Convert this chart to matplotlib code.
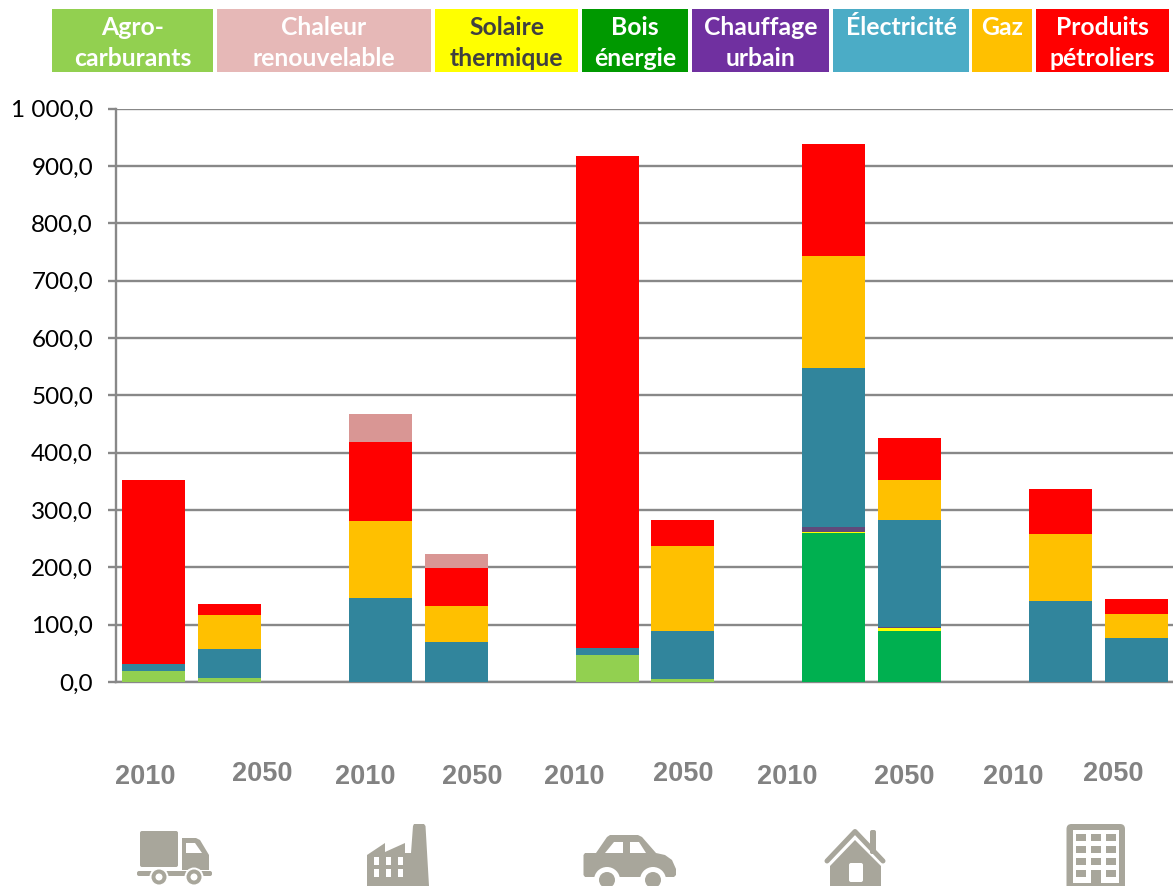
import matplotlib
matplotlib.use("Agg")
import matplotlib.pyplot as plt
from matplotlib.patches import Polygon, Rectangle, Circle, FancyBboxPatch
from matplotlib.ticker import FuncFormatter

# ---------- data ----------
years = ["2010", "2050", "2010", "2050", "2010", "2050", "2010", "2050", "2010", "2050"]
slots = [0, 1, 3, 4, 6, 7, 9, 10, 12, 13]
agro = [20, 7, 0, 0, 47, 6, 0, 0, 0, 0]
bois = [0, 0, 0, 0, 0, 0, 260, 89, 0, 0]
solaire = [0, 0, 0, 0, 0, 0, 2, 5, 0, 0]
urbain = [0, 0, 0, 0, 0, 0, 8, 2, 0, 0]
elec = [12, 50, 146, 70, 13, 83, 278, 187, 141, 77]
gaz = [0, 59, 135, 63, 0, 149, 194, 70, 117, 41]
petrole = [321, 20, 138, 66, 858, 44, 196, 73, 79, 26]
chaleur = [0, 0, 49, 24, 0, 0, 0, 0, 0, 0]
series = [agro, bois, solaire, urbain, elec, gaz, petrole, chaleur]
series_colors = ["#92D050", "#00B050", "#FFFF00", "#604A7B", "#31859C", "#FFC000", "#FF0000", "#D99694"]

legend_labels = ["Agro-\ncarburants", "Chaleur\nrenouvelable", "Solaire\nthermique", "Bois\nénergie",
                 "Chauffage\nurbain", "Électricité\n ", "Gaz\n ", "Produits\npétroliers"]
legend_colors = ["#92D050", "#E6B8B7", "#FFFF00", "#009900", "#7030A0", "#4BACC6", "#FFC000", "#FF0000"]
legend_text_colors = ["white", "white", "#404040", "white", "white", "white", "white", "white"]
legend_x0 = [52, 217, 435, 582, 692, 833, 972, 1036]
legend_x1 = [213, 431, 578, 688, 829, 969, 1032, 1169]
year_x = [145, 262, 365, 472, 574, 683, 787, 904, 1013, 1113]
year_y = [777, 774, 777, 777, 777, 774, 777, 777, 777, 774]

W, H = 1173, 886
GRID = "#888888"
ICON = "#A8A69B"

fig = plt.figure(figsize=(W / 100, H / 100), dpi=100, facecolor="white")
ax = fig.add_axes([116 / W, 1 - 682 / H, (W - 115) / W, (682 - 108.5) / H])
ax.set_xlim(-0.5, 13.5)
ax.set_ylim(0, 1000)
ax.set_yticks(range(0, 1001, 100))
ax.yaxis.set_major_formatter(FuncFormatter(
    lambda v, p: f"{int(v):,}".replace(",", " ") + ",0"))
ax.set_xticks([])
ax.grid(axis="y", color=GRID, lw=1.7, zorder=0)
ax.set_axisbelow(True)
for s in ("top", "right"):
    ax.spines[s].set_visible(False)
for s in ("left", "bottom"):
    ax.spines[s].set_color(GRID)
    ax.spines[s].set_linewidth(1.7)
ax.tick_params(axis="y", length=5.5, width=1.7, color=GRID, pad=11, labelsize=17.5, labelcolor="black")
for lab in ax.get_yticklabels():
    lab.set_fontfamily("Lato")

bottom = [0] * len(slots)
for vals, col in zip(series, series_colors):
    ax.bar(slots, vals, width=0.833, bottom=bottom, color=col, lw=0, zorder=3)
    bottom = [b + v for b, v in zip(bottom, vals)]

# overlay in pixel coordinates
ov = fig.add_axes([0, 0, 1, 1], facecolor="none")
ov.set_xlim(0, W)
ov.set_ylim(H, 0)
ov.axis("off")

for lab, col, tc, x0, x1 in zip(legend_labels, legend_colors, legend_text_colors, legend_x0, legend_x1):
    ov.add_patch(Rectangle((x0, 9), x1 - x0, 63, color=col, lw=0))
    l1, l2 = lab.split("\n")
    cx = (x0 + x1) / 2
    ov.text(cx, 27, l1, ha="center", va="center", color=tc, family="Lato", weight="bold", fontsize=17.8)
    ov.text(cx, 58, l2, ha="center", va="center", color=tc, family="Lato", weight="bold", fontsize=17.8)

for y, x, yy in zip(years, year_x, year_y):
    ov.text(x, yy, y, ha="center", va="center", color="#828282", family="Liberation Sans",
            weight="bold", fontsize=19.5)


def rrect(x, y, w, h, r=2, c=ICON, z=5):
    ov.add_patch(FancyBboxPatch((x + r, y + r), w - 2 * r, h - 2 * r,
                                boxstyle=f"round,pad={r}", fc=c, ec="none", zorder=z))


def poly(pts, c=ICON, z=5):
    ov.add_patch(Polygon(pts, closed=True, fc=c, ec="none", zorder=z))


def wheel(x, y, ro, ri, z=7):
    ov.add_patch(Circle((x, y), ro, fc=ICON, ec="none", zorder=z))
    if ri:
        ov.add_patch(Circle((x, y), ri, fc="white", ec="none", zorder=z + 1))


# truck
rrect(140, 831, 38, 36)
poly([(182, 838), (196, 838), (200, 840), (209, 855), (209, 870), (182, 870)])
poly([(186, 843), (195, 843), (202, 853), (186, 853)], c="white", z=6)
rrect(137, 871, 75, 5, r=2)
for wx in (159, 194):
    ov.add_patch(Circle((wx, 877), 9.5, fc="white", ec="none", zorder=6))
    wheel(wx, 877, 7.5, 3.5)

# factory
poly([(367, 855), (385, 843), (385, 852), (405, 843), (405, 853), (411, 853), (413, 826), (414, 824),
      (424, 824), (425.5, 826), (429, 886), (367, 886)])
for wx in (374, 386, 398):
    for wy in (857, 869):
        ov.add_patch(Rectangle((wx, wy), 5, 8, fc="white", lw=0, zorder=6))

# car
poly([(585, 853), (596, 853), (607, 837), (610, 835), (638, 835), (642, 837), (656, 853), (665, 855),
      (672, 860), (676, 869), (676, 875), (674, 877), (585, 877), (583.5, 875), (583.5, 855)])
poly([(605, 853), (614, 842), (623, 842), (623, 853)], c="white", z=6)
poly([(630, 842), (639, 842), (646, 853), (630, 853)], c="white", z=6)
for wx in (607, 653):
    ov.add_patch(Circle((wx, 880), 13, fc="white", ec="none", zorder=6))
    ov.add_patch(Circle((wx, 880), 8, fc=ICON, ec="none", zorder=7))

# house
ov.plot([827, 855, 883], [861, 831.5, 861], color=ICON, lw=3.6, solid_capstyle="round",
        solid_joinstyle="round", zorder=5)
rrect(870, 830, 6, 24, r=2)
poly([(855, 840), (881, 866), (881, 886), (830, 886), (830, 866)])
rrect(849, 863, 14, 19, r=2, c="white", z=6)

# building
rrect(1066.5, 824, 58.5, 70, r=5)
ov.add_patch(Rectangle((1073, 830), 46, 60, fc="white", lw=0, zorder=6))
for wx in (1076, 1091, 1106):
    for wy in (834, 846, 858, 870):
        ov.add_patch(Rectangle((wx, wy), 10, 7, fc=ICON, lw=0, zorder=7))
ov.add_patch(Rectangle((1091, 870), 10, 20, fc=ICON, lw=0, zorder=7))
ov.add_patch(Rectangle((1066.5, 883), 58.5, 5, fc=ICON, lw=0, zorder=7))

fig.savefig("out.png", dpi=100, facecolor="white")
